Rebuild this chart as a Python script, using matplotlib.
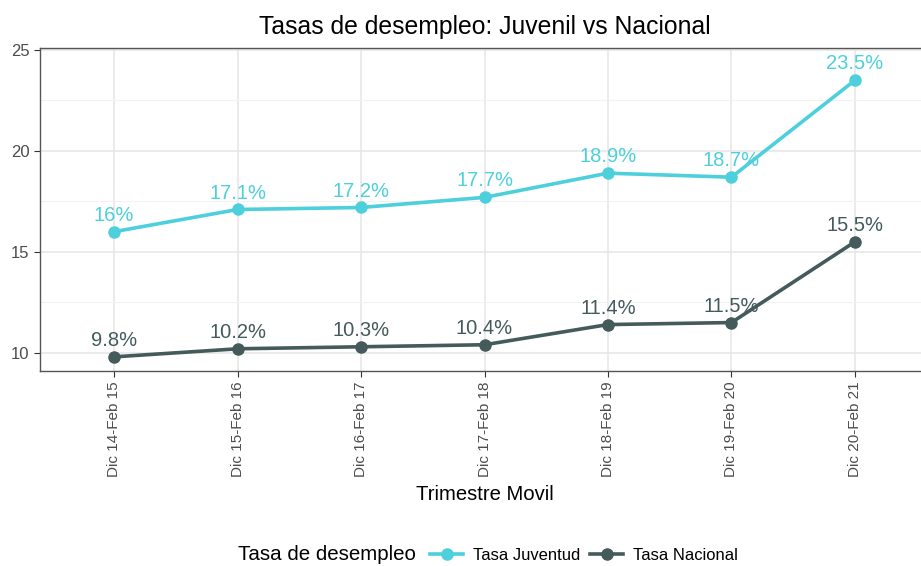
import matplotlib.pyplot as plt
from matplotlib.lines import Line2D

plt.rcParams['font.family'] = ['Liberation Sans', 'DejaVu Sans']

# Data
trimestres = ['Dic 14-Feb 15', 'Dic 15-Feb 16', 'Dic 16-Feb 17', 'Dic 17-Feb 18',
              'Dic 18-Feb 19', 'Dic 19-Feb 20', 'Dic 20-Feb 21']
tasa_juventud = [16.0, 17.1, 17.2, 17.7, 18.9, 18.7, 23.5]
tasa_nacional = [9.8, 10.2, 10.3, 10.4, 11.4, 11.5, 15.5]

col_juv = '#4dd0dc'
col_nac = '#455a5a'

fig = plt.figure(figsize=(9.21, 5.66), dpi=100)
ax = fig.add_axes([40 / 921, 1 - 371 / 566, (929 - 40) / 921, (371 - 48) / 566])

x = list(range(len(trimestres)))
for serie, col in [(tasa_juventud, col_juv), (tasa_nacional, col_nac)]:
    ax.plot(x, serie, color=col, lw=2.6, marker='o', ms=8, zorder=3)
    for xi, yi in zip(x, serie):
        ax.annotate(f'{yi:g}%', (xi, yi), xytext=(0, 5), textcoords='offset points',
                    ha='center', va='bottom', color=col, fontsize=14.5, zorder=4)

ax.set_xlim(-0.6, 6.6)
ax.set_ylim(9.1, 25.1)
ax.set_yticks([10, 15, 20, 25])
ax.set_yticks([12.5, 17.5, 22.5], minor=True)
ax.set_xticks(x)
ax.set_xticklabels(trimestres, rotation=90, fontsize=11, color='#4d4d4d')
ax.tick_params(axis='y', labelsize=12, labelcolor='#4d4d4d', length=4, color='#333333')
ax.tick_params(axis='x', length=4, color='#333333')
ax.tick_params(axis='y', which='minor', length=0)
ax.grid(True, which='major', color='#e6e6e6', lw=1.1, zorder=0)
ax.grid(True, which='minor', axis='y', color='#f2f2f2', lw=0.8, zorder=0)
ax.set_axisbelow(True)
for s in ax.spines.values():
    s.set_color('#555555')
    s.set_linewidth(1.0)

ax.set_xlabel('Trimestre Movil', fontsize=14.6, labelpad=6)
ax.set_title('Tasas de desempleo: Juvenil vs Nacional', fontsize=17.8, pad=10)

# legend: title on the left, items to its right
fig.text(238 / 921, 1 - 554 / 566, 'Tasa de desempleo', fontsize=14.8,
         ha='left', va='center')
handles = [Line2D([0], [0], color=col_juv, lw=2.6, marker='o', ms=8),
           Line2D([0], [0], color=col_nac, lw=2.6, marker='o', ms=8)]
fig.legend(handles, ['Tasa Juventud', 'Tasa Nacional'], loc='center left',
           bbox_to_anchor=(430 / 921, 1 - 555 / 566), ncol=2, frameon=False,
           fontsize=11.9, handlelength=2.0, handletextpad=0.6, columnspacing=0.6,
           borderpad=0, borderaxespad=0)

fig.savefig('out.png', dpi=100)
